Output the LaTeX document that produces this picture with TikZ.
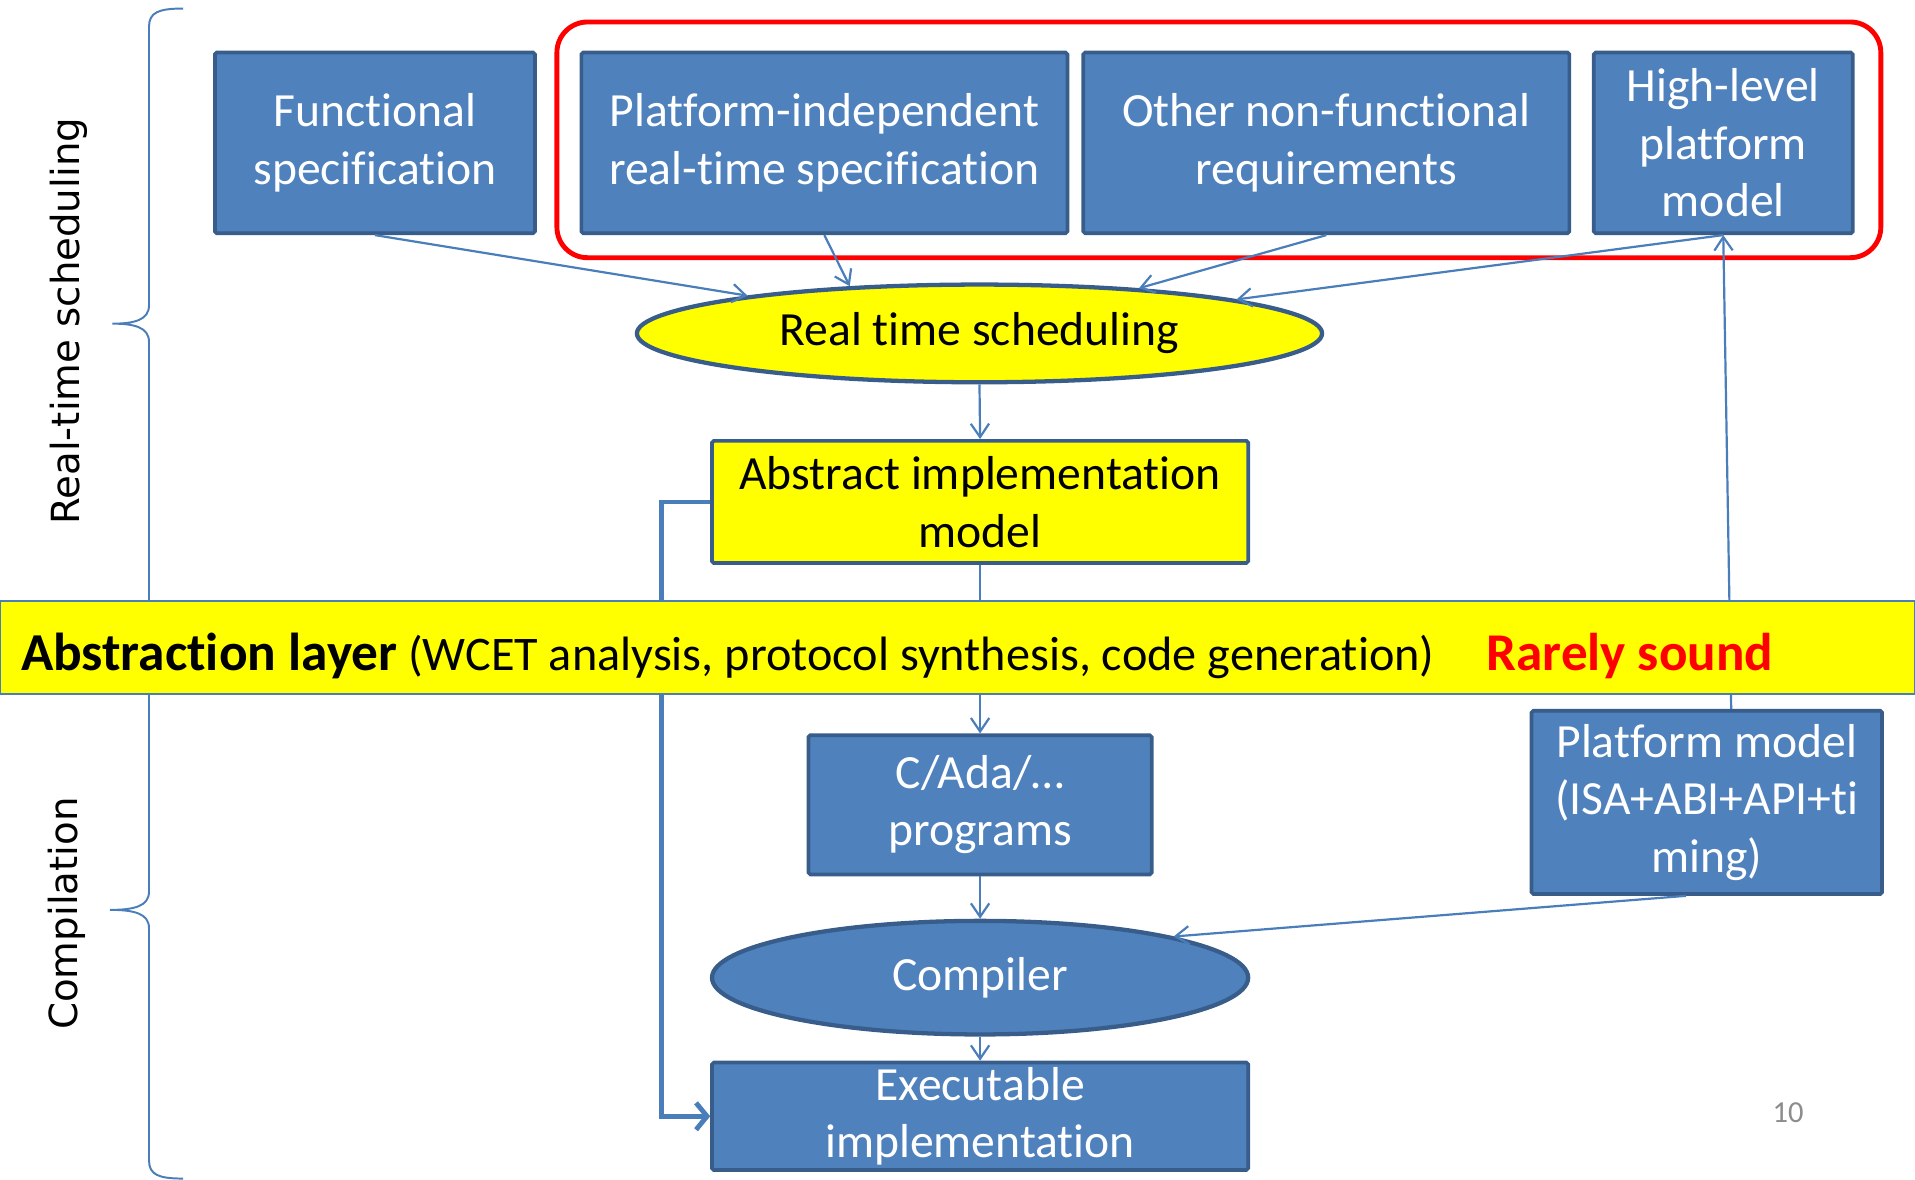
\documentclass[tikz,border=0pt]{standalone}
\usepackage{fontspec}
\setmainfont{Carlito}[Ligatures={NoCommon,NoContextual,NoRare},RawFeature=-calt]
\newfontfamily\sidefont{DejaVu Sans}
\usetikzlibrary{shapes.geometric,arrows.meta,calc}
\definecolor{boxblue}{HTML}{4F81BD}
\definecolor{edgeblue}{HTML}{385D8A}
\definecolor{lineblue}{HTML}{4A7EBB}
\definecolor{hiyellow}{HTML}{FFFF00}
\definecolor{pagegray}{HTML}{8C8C8C}
\begin{document}
\begin{tikzpicture}[x=1pt,y=1pt,
  boxfont/.style={font=\fontsize{39}{47}\selectfont},
  bluebox/.style={rectangle, rounded corners=1.5pt, fill=boxblue, draw=edgeblue, line width=3pt, text=white, align=center, inner sep=0pt, boxfont},
  yellowbox/.style={bluebox, fill=hiyellow, text=black},
  blueell/.style={ellipse, fill=boxblue, draw=edgeblue, line width=3.5pt, text=white, align=center, inner sep=0pt, boxfont},
  yellowell/.style={blueell, fill=hiyellow, text=black},
  arr/.style={draw=lineblue, line width=1.8pt, -{Straight Barb[length=11pt,width=15pt]}},
  fb/.style={draw=lineblue, line width=4pt, -{Straight Barb[length=9pt,width=22pt]}},
  brace/.style={draw=lineblue, line width=1.6pt},
  sidelabel/.style={rotate=90, inner sep=0pt, font=\sidefont\fontsize{31.7}{38}\selectfont}]
\useasboundingbox (0,0) rectangle (1568,-966);

% top row
\node[bluebox, minimum width=262, minimum height=148] (func) at (307,-117) {Functional\\specification};
\node[bluebox, minimum width=398, minimum height=148] (pind) at (675,-117) {Platform-independent\\real-time specification};
\node[bluebox, minimum width=398, minimum height=148] (onf) at (1086,-117) {Other non-functional\\requirements};
\node[bluebox, minimum width=212, minimum height=148] (hl) at (1411,-117) {High-level\\platform\\model};
\draw[red, line width=4pt, rounded corners=25pt] (456,-18) rectangle (1540,-211);

% middle
\node[yellowell, minimum width=561, minimum height=80] (rts) at (802,-273) {Real time scheduling};
\node[yellowbox, minimum width=439, minimum height=100] (aim) at (802.5,-411) {Abstract implementation\\model};

% bottom
\node[bluebox, minimum width=281, minimum height=114] (cada) at (802.5,-659) {C/Ada/\ldots\\programs};
\node[bluebox, minimum width=287, minimum height=150] (pm) at (1397.5,-657) {Platform model\\(ISA+ABI+API+ti\\ming)};
\node[blueell, minimum width=439, minimum height=93] (comp) at (802.5,-800.5) {Compiler};
\node[bluebox, minimum width=439, minimum height=88] (exe) at (802.5,-914) {Executable\\implementation};

% side labels and braces
\node[sidelabel] (lrts) at (56,-263) {Real-time scheduling};
\node[sidelabel] (lcomp) at (55,-748) {Compilation};
\draw[brace] (150,-7) .. controls (130,-7) and (122,-10) .. (122,-22) -- (122,-250)
  .. controls (122,-262) and (110,-265) .. (92,-265)
  .. controls (110,-265) and (122,-268) .. (122,-280) -- (122,-510)
  .. controls (122,-520) and (130,-522) .. (150,-522);
\draw[brace] (150,-540) .. controls (130,-540) and (122,-545) .. (122,-555) -- (122,-730)
  .. controls (122,-742) and (110,-745) .. (90,-745)
  .. controls (110,-745) and (122,-748) .. (122,-760) -- (122,-950)
  .. controls (122,-962) and (130,-965) .. (150,-965);

% connectors
\draw[arr] (func.south) -- (rts);
\draw[arr] (pind.south) -- (rts.160);
\draw[arr] (onf.south) -- (rts);
\draw[arr] (hl.south) -- (rts);
\draw[arr] (rts.south) -- (aim.north);
\draw[arr] (aim.south) -- (cada.north);
\draw[arr] ([xshift=20pt]pm.north) -- (hl.south);
\draw[fb] (aim.west) -- ++(-40,0) |- (exe.west);
\draw[arr] (cada.south) -- (comp.north);
\draw[arr] (comp.south) -- (exe.north);
\draw[arr] ([xshift=-17pt]pm.south) -- (comp.12);

% abstraction layer band
\node[rectangle, fill=hiyellow, draw=lineblue, line width=1.5pt, minimum width=1568, minimum height=76, inner sep=0pt] (band) at (784,-530) {};
\node[anchor=base west, inner sep=0pt] (bandtxt) at (17,-549) {\fontsize{43.7}{50}\selectfont\bfseries Abstraction layer\fontsize{39.5}{47}\selectfont\mdseries{} (WCET analysis, protocol synthesis, code generation)};
\node[anchor=base west, inner sep=0pt, text=red, font=\fontsize{43.5}{50}\selectfont\bfseries] (rare) at (1217,-549) {Rarely sound};

\node[text=pagegray, inner sep=0pt, font=\fontsize{25}{30}\selectfont] (pg) at (1464,-911) {10};
\end{tikzpicture}
\end{document}
